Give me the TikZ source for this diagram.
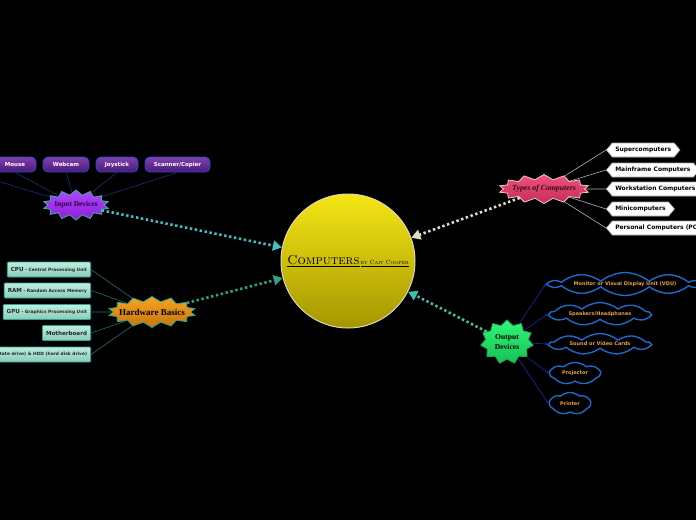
\documentclass[tikz,border=0pt]{standalone}
\usepackage{fontspec}
\newfontfamily\serifb{Liberation Serif}
\newfontfamily\sansb{DejaVu Sans}
\usetikzlibrary{shapes.symbols,shapes.geometric,arrows.meta}
\definecolor{pilltop}{HTML}{8040B0}
\definecolor{pillbot}{HTML}{4A1A78}
\definecolor{pillborder}{HTML}{2848C8}
\definecolor{hwctop}{HTML}{C0EEE0}
\definecolor{hwcbot}{HTML}{88CCB8}
\definecolor{hwcborder}{HTML}{30A090}
\definecolor{cloudborder}{HTML}{1E6AC8}
\definecolor{cloudtext}{HTML}{E8A040}
\tikzset{
 burst/.style={starburst, random starburst=0, draw, line width=0.8pt, font=\serifb\bfseries, inner ysep=1pt, align=center, starburst point height=5pt, starburst points=14},
 pill/.style={rectangle, rounded corners=5pt, draw=pillborder, line width=0.9pt, top color=pilltop, bottom color=pillbot, text=white, font=\sansb\bfseries\fontsize{5.5}{6}\selectfont, minimum height=15pt, inner xsep=6pt, inner ysep=0pt},
 hwchild/.style={rectangle, rounded corners=1pt, draw=hwcborder, line width=0.9pt, top color=hwctop, bottom color=hwcbot, text=black!85, font=\sansb\bfseries\fontsize{4.4}{6}\selectfont, minimum height=15pt, inner xsep=3.5pt, inner ysep=0pt, anchor=east},
 typchild/.style={signal, signal to=west and east, signal pointer angle=100, draw=gray!70, fill=white, line width=0.6pt, text=black, font=\sansb\bfseries\fontsize{6}{7}\selectfont, minimum height=14pt, inner xsep=3pt, inner ysep=0pt, anchor=west},
 cloudnode/.style={cloud, cloud ignores aspect, cloud puff arc=80, draw=cloudborder, fill=black, line width=1.4pt, text=cloudtext, font=\sansb\bfseries\fontsize{5}{6}\selectfont, inner sep=0pt},
 dotconn/.style={line width=2.6pt, dash pattern=on 2.4pt off 2.6pt, -{Triangle[length=9pt,width=10pt]}},
 thinline/.style={line width=0.6pt},
}
\begin{document}
\begin{tikzpicture}[x=1pt,y=-1pt]
\useasboundingbox (0,0) rectangle (696,520);
\fill[black] (0,0) rectangle (696,520);

% central node
\node[circle, minimum size=134pt, draw={rgb,255:red,220;green,215;blue,180}, line width=1pt, top color={rgb,255:red,244;green,230;blue,20}, bottom color={rgb,255:red,165;green,150;blue,0}] (center) at (348,261) {};
\node (title) at (348,261) {\underline{\fontsize{13}{14}\selectfont\textsc{Computers}}\kern1pt\underline{\fontsize{6}{7}\selectfont\textsc{by Cait Cooper}}};

% Input devices
\node[burst, inner xsep=-3pt, minimum width=66pt, minimum height=30pt, draw={rgb,255:red,60;green,180;blue,170}, top color={rgb,255:red,180;green,70;blue,255}, bottom color={rgb,255:red,140;green,30;blue,215}, text={rgb,255:red,40;green,0;blue,60}, font=\serifb\bfseries\fontsize{7.4}{8}\selectfont] (input) at (76,205) {Input Devices};
\node[pill, minimum width=42pt] (mouse) at (15,164.5) {Mouse};
\node[pill, minimum width=46pt] (webcam) at (66,164.5) {Webcam};
\node[pill, minimum width=42pt] (joy) at (117,164.5) {Joystick};
\node[pill, minimum width=65pt] (scan) at (177.5,164.5) {Scanner/Copier};
\coordinate (kbd) at (-32,172);
\foreach \c in {mouse,webcam,joy,scan}{\draw[thinline, draw={rgb,255:red,25;green,50;blue,130}] (\c.south) -- (input);}
\draw[thinline, draw={rgb,255:red,25;green,50;blue,130}] (kbd) -- (input);

% Hardware basics
\node[burst, inner xsep=-7pt, minimum width=88pt, minimum height=31pt, draw={rgb,255:red,40;green,160;blue,140}, top color={rgb,255:red,245;green,165;blue,35}, bottom color={rgb,255:red,200;green,115;blue,10}, text=black, font=\serifb\bfseries\fontsize{9}{10}\selectfont] (hw) at (152,312) {Hardware Basics};
\node[hwchild] (cpu) at (91,269.5) {{\fontsize{5.6}{7}\selectfont CPU} - Central Processing Unit};
\node[hwchild] (ram) at (91,290.5) {{\fontsize{5.6}{7}\selectfont RAM} - Random Access Memory};
\node[hwchild] (gpu) at (91,312) {{\fontsize{5.6}{7}\selectfont GPU} - Graphics Processing Unit};
\node[hwchild, font=\sansb\bfseries\fontsize{5.6}{7}\selectfont] (mobo) at (91,333) {Motherboard};
\node[hwchild] (ssd) at (91,354.5) {SSD (solid state drive) \& HDD (hard disk drive)};
\foreach \c in {cpu,ram,gpu,mobo,ssd}{\draw[thinline, draw={rgb,255:red,40;green,110;blue,95}] (\c.east) -- (hw);}

% Types of computers
\node[burst, inner xsep=-6pt, minimum width=91pt, minimum height=29pt, draw={rgb,255:red,240;green,200;blue,190}, top color={rgb,255:red,240;green,80;blue,125}, bottom color={rgb,255:red,195;green,45;blue,90}, text={rgb,255:red,50;green,10;blue,25}, font=\serifb\bfseries\itshape\fontsize{7.8}{8}\selectfont] (types) at (544,189) {Types of Computers};
\node[typchild] (sup) at (606,150) {Supercomputers};
\node[typchild] (main) at (606,170) {Mainframe Computers};
\node[typchild] (work) at (606,189) {Workstation Computers};
\node[typchild] (mini) at (606,209) {Minicomputers};
\node[typchild] (pc) at (606,228) {Personal Computers (PC)};
\foreach \c in {sup,main,work,mini,pc}{\draw[thinline, draw=gray!60] (types) -- (\c.west);}

% Output devices
\node[burst, starburst points=11, inner xsep=-1pt, minimum width=53pt, minimum height=44pt, draw={rgb,255:red,30;green,170;blue,90}, top color={rgb,255:red,50;green,245;blue,120}, bottom color={rgb,255:red,20;green,195;blue,85}, text=black, font=\serifb\bfseries\fontsize{7.6}{9.5}\selectfont] (out) at (507,342) {Output\\Devices};
\node[cloudnode, cloud puffs=10, minimum width=150pt, minimum height=23pt] (mon) at (625,284) {Monitor or Visual Display Unit (VDU)};
\node[cloudnode, cloud puffs=9, minimum width=100pt, minimum height=23pt] (spk) at (600,314) {Speakers/Headphones};
\node[cloudnode, cloud puffs=9, minimum width=100pt, minimum height=21pt] (snd) at (600,344) {Sound or Video Cards};
\node[cloudnode, cloud puffs=7, minimum width=50pt, minimum height=22pt] (proj) at (575,373.5) {Projector};
\node[cloudnode, cloud puffs=7, minimum width=41pt, minimum height=22pt] (prn) at (570,403.5) {Printer};
\foreach \c in {mon,spk,snd,proj,prn}{\draw[thinline, draw={rgb,255:red,15;green,45;blue,165}, -{Stealth[length=3pt,width=3pt]}] (out) -- (\c.west);}

% main dotted connectors
\draw[dotconn, color={rgb,255:red,64;green,192;blue,192}] (input) -- (center);
\draw[dotconn, color={rgb,255:red,48;green,160;blue,136}] (hw) -- (center);
\draw[dotconn, color={rgb,255:red,225;green,220;blue,200}] (types) -- (center);
\draw[dotconn, color={rgb,255:red,64;green,192;blue,168}] (out) -- (center);
\end{tikzpicture}
\end{document}
